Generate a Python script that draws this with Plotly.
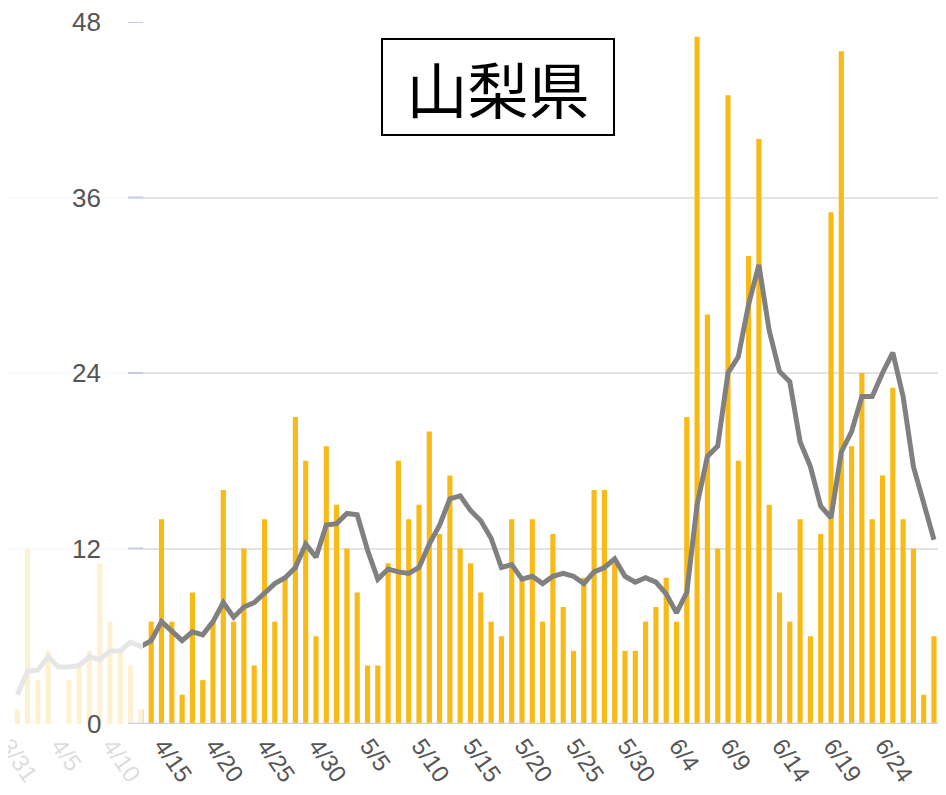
import pandas as pd
import plotly.graph_objects as go

# ---- data -------------------------------------------------------------
dates = pd.date_range("2020-03-31", "2020-06-28")
categories = [f"{d.month}/{d.day}" for d in dates]

daily_cases = [
    1,                                                    # 3/31
    12, 3, 5, 0, 3, 4, 5, 11, 7, 5,                       # 4/1-4/10
    4, 1, 7, 14, 7, 2, 9, 3, 7, 16,                       # 4/11-4/20
    7, 12, 4, 14, 7, 10, 21, 18, 6, 19,                   # 4/21-4/30
    15, 12, 9, 4, 4, 11, 18, 14, 15, 20,                  # 5/1-5/10
    13, 17, 12, 11, 9, 7, 6, 14, 10, 14,                  # 5/11-5/20
    7, 13, 8, 5, 10, 16, 16, 11, 5, 5, 7,                 # 5/21-5/31
    8, 10, 7, 21, 47, 28, 12, 43, 18, 32,                 # 6/1-6/10
    40, 15, 9, 7, 14, 6, 13, 35, 46, 19,                  # 6/11-6/20
    24, 14, 17, 23, 14, 12, 2, 6,                         # 6/21-6/28
]

avg_line = [
    2.0,                                                  # 3/31
    3.6, 3.7, 4.6, 3.9, 3.9, 4.0, 4.6, 4.4, 5.0, 5.0,     # 4/1-4/10
    5.6, 5.3, 5.7, 7.0, 6.4, 5.7, 6.3, 6.1, 7.0, 8.3,     # 4/11-4/20
    7.3, 8.0, 8.3, 9.0, 9.6, 10.0, 10.7, 12.3, 11.4, 13.6,  # 4/21-4/30
    13.7, 14.4, 14.3, 11.9, 9.9, 10.6, 10.4, 10.3, 10.7, 12.3,  # 5/1-5/10
    13.6, 15.4, 15.6, 14.6, 13.9, 12.7, 10.7, 10.9, 9.9, 10.1,  # 5/11-5/20
    9.6, 10.1, 10.3, 10.1, 9.6, 10.4, 10.7, 11.3, 10.1, 9.7, 10.0,  # 5/21-5/31
    9.7, 8.9, 7.6, 9.0, 15.0, 18.3, 19.0, 24.0, 25.1, 28.7,  # 6/1-6/10
    31.4, 26.9, 24.1, 23.4, 19.3, 17.6, 14.9, 14.1, 18.6, 20.0,  # 6/11-6/20
    22.4, 22.4, 24.0, 25.4, 22.4, 17.6, 15.1, 12.6,       # 6/21-6/28
]

y_ticks = [0, 12, 24, 36, 48]
x_tick_labels = categories[::5]
title_text = "山梨県"

# ---- figure geometry (page pixels; the page body has an 8px margin) ----
OFF = 8
W, H = 946 - 2 * OFF, 795 - 2 * OFF       # keep the page free of scrollbars
PL, PR, PT, PB = OFF, OFF + W, 22, 724    # plot area on the page
ML, MR, MT = 0, 0, PT - OFF
MB = H - (PB - OFF)
PW = W - ML - MR
PH = H - MT - MB

first_c, last_c = 17.3, 934.0             # page x of first / last bar centre
step = (last_c - first_c) / (len(categories) - 1)
x_range = [(PL - first_c) / step, (len(categories) - 1) + (PR - last_c) / step]


def px_x(p):
    return (p - PL) / PW


def px_y(p):
    return (PB - p) / PH


fig = go.Figure()
fig.add_trace(go.Bar(
    x=categories, y=daily_cases,
    marker=dict(color="#F8BA17", line=dict(width=0)),
    width=0.5,
))
fig.add_trace(go.Scatter(
    x=categories, y=avg_line, mode="lines",
    line=dict(color="#808080", width=5),
    cliponaxis=False,
))

shapes = []
# faded overlay on the left part (behind the fixed y axis)
shapes.append(dict(type="rect", xref="paper", yref="paper",
                   x0=px_x(0), x1=px_x(143), y0=px_y(800), y1=px_y(0),
                   fillcolor="rgba(255,255,255,0.8)", line=dict(width=0),
                   layer="above"))
# axis baseline and y tick marks
shapes.append(dict(type="line", xref="paper", yref="y",
                   x0=px_x(128), x1=1, y0=0, y1=0,
                   line=dict(color="#C5D2EE", width=2.5), layer="above"))
for t in y_ticks[1:]:
    shapes.append(dict(type="line", xref="paper", yref="y",
                       x0=px_x(128), x1=px_x(143), y0=t, y1=t,
                       line=dict(color="#C5CAE9", width=2), layer="above"))

annotations = []
for t in y_ticks:
    annotations.append(dict(
        x=px_x(103), xref="paper", y=t, yref="y",
        text=str(t), showarrow=False, xanchor="right", yanchor="middle",
        font=dict(family="Liberation Sans, Arial, sans-serif", size=26, color="#555555"),
    ))
annotations.append(dict(
    x=px_x(498), y=px_y(87), xref="paper", yref="paper",
    text=title_text, showarrow=False, xanchor="center", yanchor="middle",
    font=dict(family="Noto Sans CJK JP, sans-serif", size=61, color="#000000"),
    bordercolor="#000000", borderwidth=2, bgcolor="#FFFFFF",
    width=228, height=92,
))

fig.update_layout(
    width=W, height=H, autosize=False,
    margin=dict(l=ML, r=MR, t=MT, b=MB, pad=0, autoexpand=False),
    paper_bgcolor="#FFFFFF", plot_bgcolor="#FFFFFF",
    showlegend=False,
    bargap=0.5,
    shapes=shapes,
    annotations=annotations,
    xaxis=dict(
        type="category", range=x_range, automargin=False,
        tickmode="array", tickvals=x_tick_labels, ticktext=x_tick_labels,
        tickangle=55, ticklabelshift=-9, ticklabelstandoff=2,
        showgrid=False, zeroline=False, showline=False,
        ticks="", tickfont=dict(family="Liberation Sans, Arial, sans-serif", size=24, color="#555555"),
    ),
    yaxis=dict(
        range=[0, 48], tickvals=y_ticks, showticklabels=False, automargin=False,
        showgrid=True, gridcolor="#E3E3E3", gridwidth=2,
        zeroline=False, showline=False, ticks="",
    ),
)

fig.write_html("out.html")
